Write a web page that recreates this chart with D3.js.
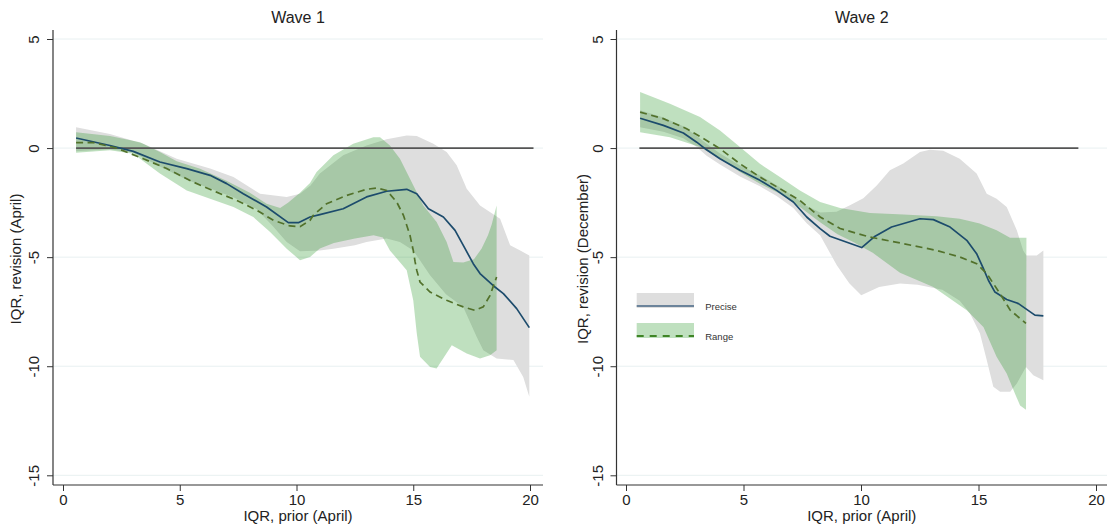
<!DOCTYPE html>
<html>
<head>
<meta charset="utf-8">
<script src="https://cdn.jsdelivr.net/npm/d3@7"></script>
<style>
body { margin: 0; background: #fff; }
svg { display: block; font-family: Arial, "Liberation Sans", sans-serif; }
</style>
</head>
<body>
<div id="canva"></div>
<script>
// ticks
const xTicks = [0, 5, 10, 15, 20];
const yTicks = [5, 0, -5, -10, -15];

// Wave 1 -- fitted lines [IQR prior, IQR revision]
const w1Precise = [[0.56,0.46],[2.01,0.12],[3.01,-0.15],[4.15,-0.64],[5.3,-0.94],[6.3,-1.25],[7.01,-1.63],[7.72,-2.09],[8.72,-2.7],[9.65,-3.42],[10.08,-3.42],[10.58,-3.16],[11.0,-3.05],[12.0,-2.78],[13.0,-2.24],[13.86,-1.98],[14.72,-1.89],[15.15,-2.09],[15.65,-2.78],[16.29,-3.16],[16.79,-3.77],[17.22,-4.61],[17.57,-5.3],[17.86,-5.75],[18.5,-6.37],[18.86,-6.67],[19.43,-7.36],[19.97,-8.23]];
const w1Range = [[0.56,0.25],[1.3,0.25],[2.3,0.0],[3.44,-0.49],[4.44,-0.94],[5.58,-1.56],[6.58,-2.02],[7.44,-2.4],[8.3,-2.85],[9.01,-3.31],[9.72,-3.57],[10.15,-3.6],[10.58,-3.31],[10.72,-3.08],[11.29,-2.55],[12.15,-2.17],[13.0,-1.89],[13.44,-1.83],[13.86,-1.94],[14.29,-2.47],[14.58,-3.08],[14.86,-4.0],[15.0,-4.69],[15.08,-5.22],[15.15,-5.6],[15.29,-6.14],[15.72,-6.6],[16.43,-6.98],[17.14,-7.28],[17.64,-7.44],[18.0,-7.28],[18.29,-6.75],[18.57,-5.91]];
// Wave 1 -- confidence bands, upper and lower edges
const w1PreciseUp = [[0.56,0.96],[2.01,0.64],[3.44,0.2],[4.87,-0.49],[6.3,-0.94],[7.3,-1.33],[8.44,-2.09],[9.58,-2.24],[10.15,-2.09],[10.6,-1.71],[11.0,-1.17],[12.0,-0.33],[13.0,0.12],[13.86,0.4],[14.72,0.58],[15.15,0.55],[15.86,0.2],[16.43,-0.18],[16.86,-0.79],[17.29,-1.86],[17.86,-2.63],[18.72,-3.24],[19.15,-4.46],[19.58,-4.69],[19.97,-4.92]];
const w1PreciseLo = [[0.56,-0.15],[2.01,-0.05],[3.0,-0.2],[4.15,-0.85],[5.3,-1.45],[6.3,-1.85],[7.3,-2.25],[8.3,-2.8],[9.0,-3.6],[9.58,-4.3],[10.15,-4.73],[11.0,-4.7],[11.58,-4.61],[12.5,-4.45],[13.0,-4.3],[13.86,-4.15],[14.43,-4.3],[15.0,-4.69],[15.72,-5.83],[16.4,-6.7],[17.14,-7.28],[17.72,-8.66],[18.0,-9.27],[18.57,-9.65],[19.29,-9.72],[19.71,-10.49],[19.97,-11.4]];
const w1RangeUp = [[0.56,0.73],[2.01,0.55],[3.3,0.27],[4.15,-0.18],[4.87,-0.6],[5.87,-0.95],[7.0,-1.5],[8.0,-2.05],[8.72,-2.55],[9.3,-2.75],[9.65,-2.5],[10.15,-2.05],[10.58,-1.6],[10.86,-1.1],[11.58,-0.33],[12.43,0.2],[13.29,0.5],[13.58,0.5],[14.0,0.12],[14.43,-0.49],[14.86,-1.41],[15.43,-2.63],[16.0,-3.39],[16.43,-4.31],[16.72,-5.22],[17.14,-5.25],[17.6,-5.1],[17.93,-4.6],[18.2,-4.0],[18.36,-3.5],[18.57,-2.63]];
const w1RangeLo = [[0.56,-0.21],[2.01,-0.1],[3.01,-0.26],[4.15,-1.17],[5.3,-1.94],[6.3,-2.32],[7.3,-2.7],[8.15,-3.16],[8.87,-3.85],[9.58,-4.61],[10.15,-5.14],[10.58,-4.99],[11.0,-4.6],[11.6,-4.35],[12.5,-4.15],[13.3,-4.0],[13.7,-4.1],[14.0,-4.69],[14.72,-5.6],[15.0,-6.98],[15.15,-8.49],[15.29,-9.57],[15.72,-10.03],[16.0,-10.1],[16.65,-9.04],[17.29,-9.42],[17.86,-9.65],[18.29,-9.5],[18.57,-9.27]];
const w1Zero = [[0.56,0],[20.15,0]];

// Wave 2 -- fitted lines
const w2Precise = [[0.6,1.37],[1.59,1.04],[2.44,0.69],[3.01,0.27],[3.43,-0.08],[4.0,-0.49],[4.85,-1.02],[5.7,-1.48],[6.41,-1.94],[7.12,-2.47],[7.69,-3.16],[8.26,-3.69],[8.68,-4.04],[10.03,-4.56],[10.6,-4.04],[11.3,-3.62],[12.51,-3.24],[13.08,-3.28],[13.79,-3.62],[14.5,-4.23],[14.92,-4.84],[15.21,-5.53],[15.42,-6.06],[15.7,-6.6],[16.2,-6.94],[16.7,-7.13],[17.4,-7.66],[17.76,-7.69]];
const w2Range = [[0.6,1.65],[1.59,1.35],[2.58,0.89],[3.43,0.35],[4.0,-0.03],[4.85,-0.72],[5.7,-1.33],[6.55,-1.86],[7.4,-2.4],[8.26,-3.16],[9.11,-3.69],[10.38,-4.08],[11.8,-4.38],[13.21,-4.69],[14.2,-4.99],[14.92,-5.3],[15.35,-5.75],[15.92,-6.68],[16.35,-7.43],[17.02,-8.04]];
// Wave 2 -- confidence bands
const w2PreciseUp = [[0.6,1.73],[1.59,1.4],[2.44,1.0],[3.01,0.55],[3.43,0.2],[4.0,-0.25],[4.85,-0.8],[5.7,-1.25],[6.41,-1.7],[7.12,-2.2],[7.69,-2.65],[8.26,-2.95],[8.96,-2.92],[9.53,-2.62],[10.1,-2.3],[10.67,-1.71],[11.23,-1.02],[11.8,-0.71],[12.51,-0.18],[12.93,-0.08],[13.5,-0.12],[14.2,-0.49],[14.92,-1.17],[15.35,-2.09],[15.77,-2.32],[16.2,-2.7],[16.63,-3.77],[16.9,-4.69],[17.04,-4.92],[17.48,-4.92],[17.76,-4.69]];
const w2PreciseLo = [[0.6,0.96],[1.59,0.75],[2.44,0.45],[3.01,0.05],[3.43,-0.35],[4.0,-0.75],[4.85,-1.3],[5.7,-1.75],[6.41,-2.2],[7.12,-2.75],[7.69,-3.45],[8.26,-4.0],[8.97,-5.37],[9.5,-6.2],[10.01,-6.75],[10.77,-6.37],[11.66,-6.21],[12.41,-6.26],[13.46,-6.49],[14.2,-7.0],[14.64,-7.58],[15.06,-8.49],[15.35,-9.72],[15.63,-10.94],[15.92,-11.17],[16.35,-11.17],[16.63,-10.79],[17.02,-10.03],[17.33,-10.41],[17.76,-10.64]];
const w2RangeUp = [[0.6,2.57],[1.87,2.03],[3.15,1.42],[4.0,0.81],[4.85,0.05],[5.7,-0.72],[6.55,-1.33],[7.4,-1.94],[8.26,-2.47],[9.11,-2.75],[10.38,-2.98],[11.8,-3.04],[13.21,-3.13],[14.2,-3.24],[15.05,-3.46],[15.77,-3.77],[16.34,-4.11],[17.04,-4.11]];
const w2RangeLo = [[0.6,0.73],[1.87,0.5],[3.15,0.05],[4.0,-0.49],[4.85,-1.1],[5.7,-1.63],[6.55,-2.09],[7.4,-2.7],[8.26,-3.4],[9.0,-3.95],[9.67,-4.3],[10.5,-4.8],[11.66,-5.72],[13.08,-6.37],[14.5,-7.43],[15.21,-8.2],[15.77,-9.57],[16.2,-10.33],[16.55,-11.25],[16.77,-11.8],[17.02,-12.0]];
const w2Zero = [[0.57,0],[19.25,0]];

const legendLabels = ["Precise", "Range"];

const width = 1107;
const height = 529;
const plotTop = 30;
const plotBottom = 485;

const preciseColor = "#1c4b6c";
const rangeColor = "#52712b";
const grayFill = "#dedede";
const greenFill = "rgb(20,140,20)";
const greenOpacity = 0.27;
const textColor = "#222";

const panels = [
    { title: "Wave 1", yLabel: "IQR, revision (April)", left: 53, right: 543, x0: 63, x20: 530, yLabelX: 21,
      precise: w1Precise, range: w1Range, pUp: w1PreciseUp, pLo: w1PreciseLo, rUp: w1RangeUp, rLo: w1RangeLo, zero: w1Zero, legend: false },
    { title: "Wave 2", yLabel: "IQR, revision (December)", left: 616.5, right: 1107, x0: 626, x20: 1096, yLabelX: 588,
      precise: w2Precise, range: w2Range, pUp: w2PreciseUp, pLo: w2PreciseLo, rUp: w2RangeUp, rLo: w2RangeLo, zero: w2Zero, legend: true }
];

const svg = d3.select("#canva").append("svg")
    .attr("width", width)
    .attr("height", height);

const y = d3.scaleLinear().domain([5, -15]).range([39, 475.3]);

panels.forEach(p => {
    const x = d3.scaleLinear().domain([0, 20]).range([p.x0, p.x20]);
    const g = svg.append("g");

    // light gridlines
    g.selectAll("line.grid").data(yTicks).enter().append("line")
        .attr("class", "grid")
        .attr("x1", p.left).attr("x2", p.right)
        .attr("y1", d => y(d)).attr("y2", d => y(d))
        .attr("stroke", "#e8f0f1").attr("stroke-width", 1);

    const line = d3.line().x(d => x(d[0])).y(d => y(d[1]));
    const band = (up, lo) => line(up.concat(lo.slice().reverse())) + "Z";

    g.append("path").attr("d", band(p.pUp, p.pLo)).attr("fill", grayFill);
    g.append("path").attr("d", band(p.rUp, p.rLo))
        .attr("fill", greenFill).attr("fill-opacity", greenOpacity);

    g.append("path").attr("d", line(p.zero))
        .attr("stroke", "#555").attr("stroke-width", 1.8).attr("fill", "none");

    g.append("path").attr("d", line(p.precise))
        .attr("stroke", preciseColor).attr("stroke-width", 1.7).attr("fill", "none")
        .attr("stroke-linejoin", "round");
    g.append("path").attr("d", line(p.range))
        .attr("stroke", rangeColor).attr("stroke-width", 1.7).attr("fill", "none")
        .attr("stroke-dasharray", "7,4.5");

    // axes (plain hyphen minus, like the original)
    const xAxis = g.append("g")
        .attr("transform", `translate(0,${plotBottom})`)
        .call(d3.axisBottom(x).tickValues(xTicks).tickSize(6).tickPadding(3).tickFormat(d => String(d)));
    xAxis.select(".domain").remove();
    xAxis.selectAll("text").style("font-size", "15px").attr("fill", textColor);

    const yAxis = g.append("g")
        .attr("transform", `translate(${p.left},0)`)
        .call(d3.axisLeft(y).tickValues(yTicks).tickSize(6).tickFormat(d => String(d)));
    yAxis.select(".domain").remove();
    yAxis.selectAll("text")
        .attr("x", null).attr("dy", null)
        .attr("text-anchor", "middle")
        .attr("transform", "translate(-14,0) rotate(-90)")
        .style("font-size", "15px").attr("fill", textColor);
    g.selectAll(".tick line").attr("stroke", "#333");

    g.append("line")
        .attr("x1", p.left).attr("x2", p.right)
        .attr("y1", plotBottom).attr("y2", plotBottom)
        .attr("stroke", "#333").attr("stroke-width", 1.2);
    g.append("line")
        .attr("x1", p.left).attr("x2", p.left)
        .attr("y1", plotTop).attr("y2", plotBottom)
        .attr("stroke", "#333").attr("stroke-width", 1.2);

    // titles
    g.append("text")
        .attr("x", (p.left + p.right) / 2).attr("y", 22.5)
        .attr("text-anchor", "middle")
        .style("font-size", "16px").attr("fill", textColor)
        .text(p.title);
    g.append("text")
        .attr("x", (p.left + p.right) / 2).attr("y", 520.5)
        .attr("text-anchor", "middle")
        .style("font-size", "15px").attr("fill", textColor)
        .text("IQR, prior (April)");
    g.append("text")
        .attr("transform", `translate(${p.yLabelX},259) rotate(-90)`)
        .attr("text-anchor", "middle")
        .style("font-size", "15px").attr("fill", textColor)
        .text(p.yLabel);

    if (p.legend) {
        const lg = g.append("g").attr("transform", "translate(636.7,293)");
        lg.append("rect").attr("width", 57.3).attr("height", 15).attr("fill", grayFill);
        lg.append("line").attr("x1", 0).attr("x2", 57.3).attr("y1", 13).attr("y2", 13)
            .attr("stroke", "#6c849b").attr("stroke-width", 1.8);
        lg.append("rect").attr("y", 30).attr("width", 57.3).attr("height", 15)
            .attr("fill", greenFill).attr("fill-opacity", greenOpacity);
        lg.append("line").attr("x1", 0).attr("x2", 57.3).attr("y1", 43).attr("y2", 43)
            .attr("stroke", "#3f8526").attr("stroke-width", 1.8).attr("stroke-dasharray", "7,6");
        lg.selectAll("text.lab").data(legendLabels).enter().append("text")
            .attr("class", "lab")
            .attr("x", 68.5).attr("y", (d, i) => 16.5 + i * 30)
            .style("font-size", "9.5px").attr("fill", "#333")
            .text(d => d);
    }
});
</script>
</body>
</html>
